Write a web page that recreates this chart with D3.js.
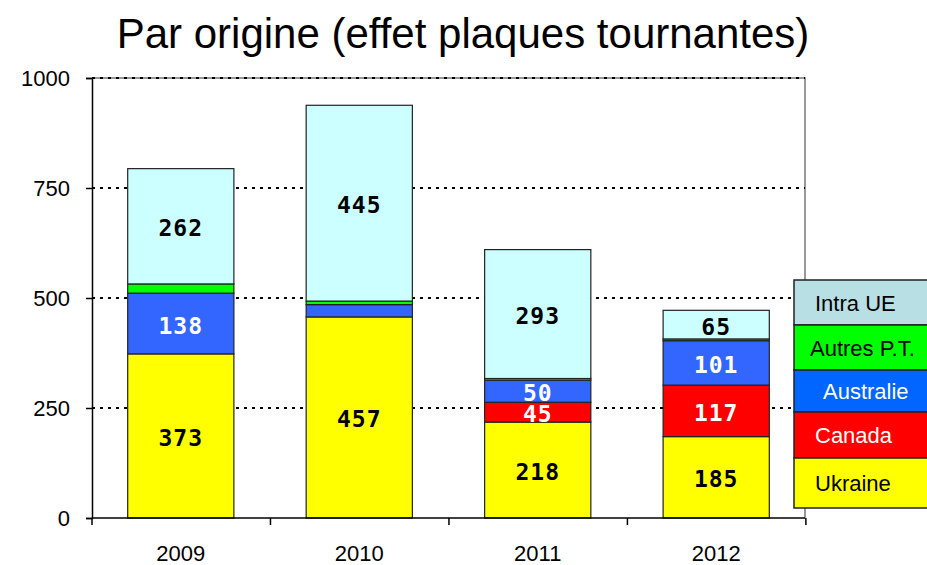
<!DOCTYPE html>
<html>
<head>
<meta charset="utf-8">
<script src="https://cdn.jsdelivr.net/npm/d3@7"></script>
<style>
  body { margin: 0; background: #fff; }
  svg { font-family: "Liberation Sans", Arial, sans-serif; }
</style>
</head>
<body>
<div class="chart"></div>
<script>
const years = ["2009", "2010", "2011", "2012"];
const ukraine = [373, 457, 218, 185];
const canada = [0, 0, 45, 117];
const australie = [138, 28, 50, 101];
const autres = [21, 8, 4, 4];
const intraUE = [262, 445, 293, 65];
const yTicks = [0, 250, 500, 750, 1000];

const series = [
  { key: "Ukraine", values: ukraine, fill: "#ffff00", legendFill: "#ffff00", text: "#000", legendText: "#000", showLabel: true },
  { key: "Canada", values: canada, fill: "#ff0000", legendFill: "#ff0000", text: "#fff", legendText: "#fff", showLabel: true },
  { key: "Australie", values: australie, fill: "#3366ff", legendFill: "#0066ff", text: "#fff", legendText: "#fff", showLabel: true },
  { key: "Autres P.T.", values: autres, fill: "#00ff00", legendFill: "#00ff00", text: "#000", legendText: "#000", showLabel: false },
  { key: "Intra UE", values: intraUE, fill: "#ccffff", legendFill: "#b8dfe3", text: "#000", legendText: "#000", showLabel: true }
];

const width = 927;
const height = 565;
const margin = { left: 92, right: 122, top: 78, bottom: 47 };

const svg = d3.select(".chart").append("svg")
  .attr("width", width)
  .attr("height", height);

// title
svg.append("text")
  .attr("x", 463)
  .attr("y", 48)
  .attr("text-anchor", "middle")
  .style("font-size", "42px")
  .text("Par origine (effet plaques tournantes)");

const x = d3.scaleBand()
  .domain(years)
  .range([margin.left, width - margin.right])
  .paddingInner(0.405)
  .paddingOuter(0.2);

const y = d3.scaleLinear()
  .domain([0, 1000])
  .range([height - margin.bottom, margin.top]);

// frame (top/right)
svg.append("path")
  .attr("d", `M${margin.left},${y(1000)}H${width - margin.right}V${y(0)}`)
  .attr("fill", "none")
  .attr("stroke", "#777")
  .attr("stroke-width", 1.5);

// gridlines
svg.append("g")
  .selectAll("line")
  .data(yTicks.filter(d => d > 0))
  .enter().append("line")
  .attr("x1", margin.left)
  .attr("x2", width - margin.right)
  .attr("y1", d => y(d))
  .attr("y2", d => y(d))
  .attr("stroke", "#000")
  .attr("stroke-width", 2)
  .attr("stroke-dasharray", "3,5");

// stacked bars
const rows = years.map((yr, i) => {
  const r = { year: yr };
  series.forEach(s => { r[s.key] = s.values[i]; });
  return r;
});
const stacked = d3.stack().keys(series.map(s => s.key))(rows);

const layers = svg.append("g")
  .selectAll("g")
  .data(stacked)
  .enter().append("g")
  .attr("fill", (d, i) => series[i].fill);

layers.selectAll("rect")
  .data(d => d)
  .enter().append("rect")
  .filter(d => d[1] - d[0] > 0)
  .attr("x", d => x(d.data.year))
  .attr("y", d => y(d[1]))
  .attr("width", x.bandwidth())
  .attr("height", d => y(d[0]) - y(d[1]))
  .attr("stroke", "#222")
  .attr("stroke-width", 1.2);

// value labels
stacked.forEach((layer, i) => {
  const s = series[i];
  if (!s.showLabel) return;
  svg.append("g")
    .selectAll("text")
    .data(layer.filter(d => d[1] - d[0] > 40))
    .enter().append("text")
    .attr("x", d => x(d.data.year) + x.bandwidth() / 2)
    .attr("y", d => (y(d[0]) + y(d[1])) / 2 + 10)
    .attr("text-anchor", "middle")
    .style("font-family", "'DejaVu Sans Mono', monospace")
    .style("font-weight", "bold")
    .style("font-size", "23px")
    .style("letter-spacing", "1px")
    .attr("fill", s.text)
    .text(d => d[1] - d[0]);
});

// y axis
const yAxis = svg.append("g")
  .attr("transform", `translate(${margin.left},0)`)
  .call(d3.axisLeft(y).tickValues(yTicks).tickFormat(d3.format("d")).tickSize(6).tickPadding(16));
yAxis.select(".domain").attr("stroke", "#000").attr("stroke-width", 1.5);
yAxis.selectAll(".tick line").attr("stroke", "#000").attr("stroke-width", 1.5);
yAxis.selectAll(".tick text")
  .style("font-size", "22px")
  .style("font-family", "'Liberation Sans', Arial, sans-serif")
  .attr("fill", "#000");

// x axis with ticks at category boundaries
const xAxisG = svg.append("g")
  .attr("transform", `translate(0,${y(0)})`);
xAxisG.append("line")
  .attr("x1", margin.left)
  .attr("x2", width - margin.right)
  .attr("stroke", "#000")
  .attr("stroke-width", 1.5);
const step = x.step();
const bounds = d3.range(years.length + 1).map(i => x(years[0]) - x.paddingOuter() * step + i * step);
xAxisG.selectAll(".btick")
  .data(bounds)
  .enter().append("line")
  .attr("x1", d => d)
  .attr("x2", d => d)
  .attr("y1", 0)
  .attr("y2", 7)
  .attr("stroke", "#000")
  .attr("stroke-width", 1.5);
xAxisG.selectAll(".xlab")
  .data(years)
  .enter().append("text")
  .attr("x", d => x(d) + x.bandwidth() / 2)
  .attr("y", 43)
  .attr("text-anchor", "middle")
  .style("font-size", "22px")
  .text(d => d);

// legend (top entry first)
const legendItems = series.slice().reverse();
const legendTop = 280;
const itemH = [45, 45, 42, 46, 50];
const textX = [21, 16, 29, 21, 21];
let acc = legendTop;
const legend = svg.append("g");
legendItems.forEach((s, i) => {
  const g = legend.append("g").attr("transform", `translate(794,${acc})`);
  g.append("rect")
    .attr("width", 140)
    .attr("height", itemH[i])
    .attr("fill", s.legendFill)
    .attr("stroke", "#222")
    .attr("stroke-width", 1.5);
  g.append("text")
    .attr("x", textX[i])
    .attr("y", itemH[i] / 2 + 8)
    .style("font-size", "22px")
    .attr("fill", s.legendText)
    .text(s.key);
  acc += itemH[i];
});
</script>
</body>
</html>
